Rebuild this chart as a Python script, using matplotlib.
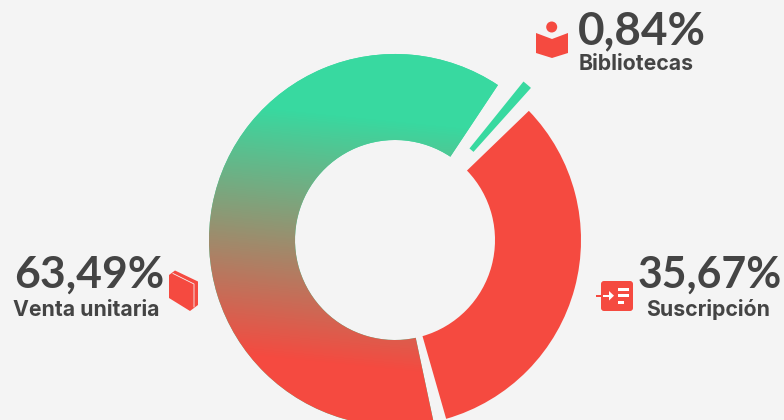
import matplotlib
matplotlib.use("Agg")
import numpy as np
import matplotlib.pyplot as plt
from matplotlib.colors import LinearSegmentedColormap
from matplotlib.patches import Wedge, Circle, Polygon, FancyBboxPatch, Rectangle

categories = ["Bibliotecas", "Suscripción", "Venta unitaria"]
shares = [0.84, 35.67, 63.49]

BG = "#F4F4F4"
GREEN = "#38D9A0"
RED = "#F54A40"
INK = "#444444"

cx, cy = 395, 240
r_out, r_in = 186, 100
start = 38.9          # clock angle where the first slice begins
trim = [(0, 0), (4.1, 6.3), (-2.3, 5.3)]   # gaps, degrees taken off each end
pull = [18, 0, 0]     # how far a slice sits out of the ring

fig = plt.figure(figsize=(7.84, 4.2), dpi=100, facecolor=BG)
ax = fig.add_axes([0, 0, 1, 1])
ax.set_facecolor(BG)

angle = start
for cat, share, (t0, t1), off in zip(categories, shares, trim, pull):
    sweep = share * 3.6
    a0, a1 = angle + t0, angle + sweep - t1
    angle += sweep
    mid = np.radians((a0 + a1) / 2)
    x = cx + off * np.sin(mid)
    y = cy - off * np.cos(mid)
    # y axis runs downwards, so theta grows clockwise on screen
    w = Wedge((x, y), r_out, a0 - 90, a1 - 90, width=r_out - r_in,
              fc=RED if cat == "Suscripción" else GREEN, ec="none")
    ax.add_patch(w)
    if cat == "Venta unitaria":
        # fade runs top to bottom, leaning slightly to the lower left
        cmap = LinearSegmentedColormap.from_list("fade", [GREEN, RED])
        gx, gy = np.meshgrid(np.arange(190, 600), np.arange(40, 430))
        fade = np.clip((gy - 245 + 0.1 * (395 - gx)) / 250 + 0.5, 0, 1)
        im = ax.imshow(fade, cmap=cmap, vmin=0, vmax=1, extent=(190, 600, 430, 40),
                       aspect="auto", zorder=2)
        im.set_clip_path(w)


def pct(v):
    return f"{v:.2f}".replace(".", ",") + "%"


big = dict(fontweight="bold", family="Lato", color=INK, va="baseline", ha="center")
small = dict(fontsize=15.3, fontweight="bold", family="Inter", color=INK, va="baseline", ha="center")
ax.text(641.5, 44, pct(shares[0]), fontsize=33, **big)
ax.text(636, 70, categories[0], **small)
ax.text(89, 288, pct(shares[2]), fontsize=32, **big)
ax.text(86, 316, categories[2], **small)
ax.text(710, 288, pct(shares[1]), fontsize=30.8, **big)
ax.text(708, 316, categories[1], **small)

# reader icon
ax.add_patch(Circle((551.7, 27), 5.5, fc=RED, ec="none"))
ax.add_patch(Polygon([(536, 33), (552, 39), (568, 33), (568, 53), (552, 58), (536, 53)], fc=RED, ec="none"))
# book icon
ax.add_patch(Polygon([(169, 275), (175, 270.5), (198, 281.5), (198, 305), (190, 311), (169, 298)], fc=RED, ec="none"))
ax.plot([173, 194, 194], [273.5, 284, 307], color=BG, lw=0.6)
# subscription icon
ax.add_patch(FancyBboxPatch((603, 283), 28, 26, boxstyle="round,pad=2,rounding_size=3", fc=RED, ec="none"))
ax.add_patch(Rectangle((596, 294.5), 7, 2.5, fc=RED, ec="none"))
ax.add_patch(Rectangle((603, 294.5), 8, 2.5, fc="white", ec="none"))
ax.add_patch(Polygon([(609, 291), (614, 295.7), (609, 300.5)], fc="white", ec="none"))
for bx, by, bw in [(618, 287.5, 11), (618, 294, 11), (618, 301, 6.5)]:
    ax.add_patch(Rectangle((bx, by), bw, 3.3, fc="white", ec="none"))

ax.set_xlim(0, 784)
ax.set_ylim(420, 0)
ax.axis("off")
fig.savefig("out.png", dpi=100, facecolor=BG)
